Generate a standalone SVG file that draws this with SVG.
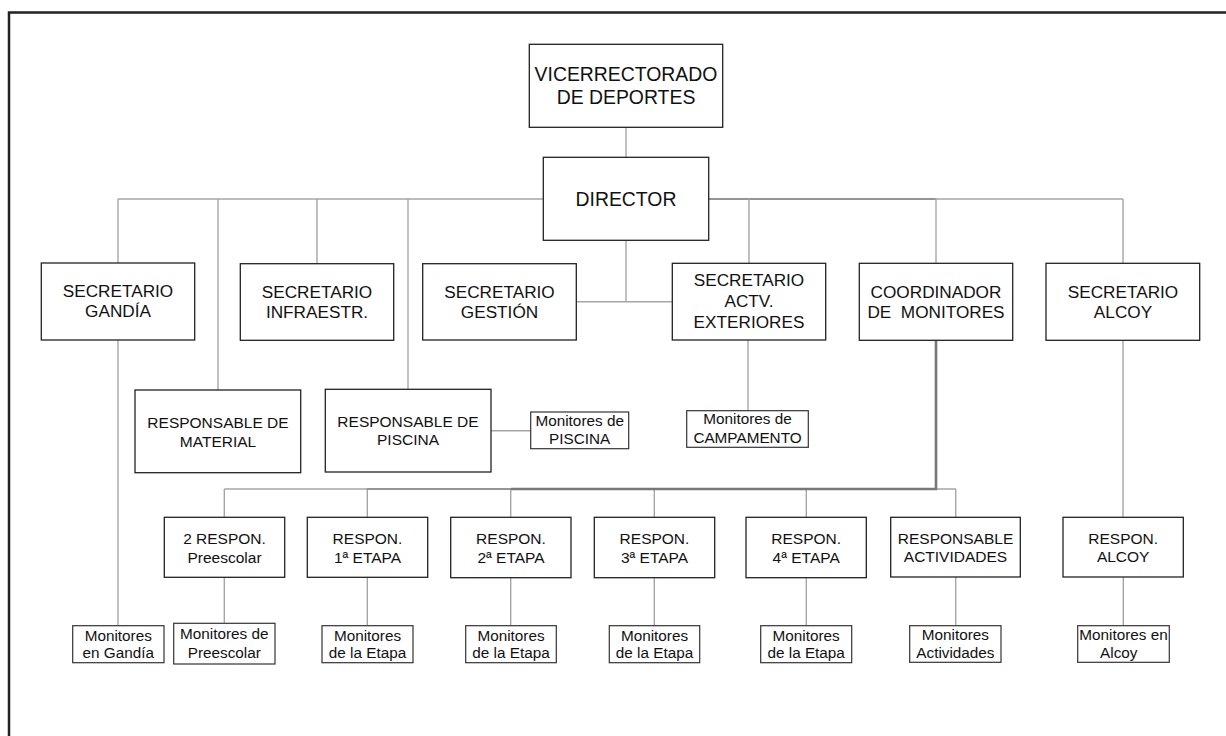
<svg xmlns="http://www.w3.org/2000/svg" width="1226" height="736" viewBox="0 0 1226 736">
<style>
.frame{fill:none;stroke:#222;stroke-width:2.5}
.c{fill:none;stroke:#a6a6a6;stroke-width:1.4}
.cm{fill:none;stroke:#888;stroke-width:1.5}
.ct{fill:none;stroke:#777;stroke-width:2.6}
.b{fill:#fff;stroke:#222;stroke-width:1.3}
.s{fill:#fff;stroke:#333;stroke-width:1.2}
text{font-family:"Liberation Sans",Arial,sans-serif;fill:#111;text-anchor:middle}
.t1{font-size:19.4px}
.t2{font-size:17.2px}
.t3{font-size:15.5px}
.t4{font-size:15.3px}
</style>
<rect width="1226" height="736" fill="#fff"/>
<path class="frame" d="M9,736 V12.5 H1226"/>
<g id="connectors">
<path class="c" d="M626,127 V157"/>
<path class="c" d="M118,199 H1123"/>
<path class="cm" d="M709,199 H936"/>
<path class="c" d="M118,199 V263 M218,199 V390 M317,199 V264 M408,199 V389 M749,199 V263 M936,199 V263 M1123,199 V263"/>
<path class="c" d="M626,240 V301.7 M576,301.7 H672"/>
<path class="c" d="M118,340 V625.7"/>
<path class="c" d="M491,430.7 H530.7"/>
<path class="c" d="M748,340 V410.7"/>
<path class="c" d="M224.3,489 H956 M224.3,489 V517 M367.3,489 V517 M510.7,489 V517 M654.3,489 V517 M806.3,489 V517 M955.7,489 V517"/>
<path class="cm" d="M367,489 H512"/>
<path class="ct" d="M936,340 V489 H511"/>
<path class="c" d="M1123,340 V517"/>
<path class="c" d="M224.3,577 V623.3 M367.3,577 V625.7 M510.7,577 V625.7 M654.3,577 V625.7 M806.3,577 V625.7 M955.7,577 V625.7 M1123.3,577 V625.7"/>
</g>
<g id="vicerrectorado"><rect class="b" x="529.3" y="44.3" width="193.4" height="83"/><text class="t1" x="626" y="80.7">VICERRECTORADO</text><text class="t1" x="626" y="104">DE DEPORTES</text></g>
<g id="director"><rect class="b" x="543.3" y="157.3" width="165.4" height="83"/><text class="t1" x="626" y="205.7">DIRECTOR</text></g>
<g id="sec-gandia"><rect class="b" x="41.3" y="263" width="153.4" height="77"/><text class="t2" x="118" y="297">SECRETARIO</text><text class="t2" x="118" y="317.3">GANDÍA</text></g>
<g id="sec-infraestr"><rect class="b" x="240.3" y="263.7" width="153.4" height="76.6"/><text class="t2" x="317" y="297.7">SECRETARIO</text><text class="t2" x="317" y="318.3">INFRAESTR.</text></g>
<g id="sec-gestion"><rect class="b" x="422.7" y="263.7" width="153.6" height="76.3"/><text class="t2" x="499.5" y="297.7">SECRETARIO</text><text class="t2" x="499.5" y="318.3">GESTIÓN</text></g>
<g id="sec-exteriores"><rect class="b" x="672.3" y="263.3" width="153.4" height="76.7"/><text class="t2" x="749" y="286">SECRETARIO</text><text class="t2" x="749" y="306.7">ACTV.</text><text class="t2" x="749" y="328.3">EXTERIORES</text></g>
<g id="coordinador"><rect class="b" x="859.3" y="263.3" width="153.4" height="77"/><text class="t2" x="936" y="297.7">COORDINADOR</text><text class="t2" x="936" y="318.3" xml:space="preserve">DE  MONITORES</text></g>
<g id="sec-alcoy"><rect class="b" x="1046" y="263.3" width="153.7" height="77"/><text class="t2" x="1123" y="297.7">SECRETARIO</text><text class="t2" x="1123" y="318.3">ALCOY</text></g>
<g id="resp-material"><rect class="b" x="135" y="390" width="165.7" height="82.7"/><text class="t3" x="218" y="427.5">RESPONSABLE DE</text><text class="t3" x="218" y="446.5">MATERIAL</text></g>
<g id="resp-piscina"><rect class="b" x="325.3" y="389.3" width="165.7" height="82.7"/><text class="t3" x="408" y="426.7">RESPONSABLE DE</text><text class="t3" x="408" y="445.3">PISCINA</text></g>
<g id="mon-piscina"><rect class="s" x="530.7" y="412" width="98" height="36.7"/><text class="t4" x="579.7" y="425.7">Monitores de</text><text class="t4" x="579.7" y="444.3">PISCINA</text></g>
<g id="mon-campamento"><rect class="s" x="686.7" y="410.7" width="121.6" height="36.6"/><text class="t4" x="747.5" y="424.3">Monitores de</text><text class="t4" x="747.5" y="443">CAMPAMENTO</text></g>
<g id="resp-preescolar"><rect class="b" x="164.3" y="517.3" width="120.4" height="60"/><text class="t3" x="224.5" y="544.3">2 RESPON.</text><text class="t3" x="224.5" y="562.7">Preescolar</text></g>
<g id="resp-1"><rect class="b" x="307.3" y="517.3" width="120.4" height="60"/><text class="t3" x="367.5" y="544.3">RESPON.</text><text class="t3" x="367.5" y="562.7">1ª ETAPA</text></g>
<g id="resp-2"><rect class="b" x="450.7" y="517.3" width="120.3" height="60.4"/><text class="t3" x="511" y="544.3">RESPON.</text><text class="t3" x="511" y="562.7">2ª ETAPA</text></g>
<g id="resp-3"><rect class="b" x="594.3" y="517.3" width="120.4" height="60.4"/><text class="t3" x="654.5" y="544.3">RESPON.</text><text class="t3" x="654.5" y="562.7">3ª ETAPA</text></g>
<g id="resp-4"><rect class="b" x="746" y="517.3" width="120.3" height="60.4"/><text class="t3" x="806.2" y="544.3">RESPON.</text><text class="t3" x="806.2" y="562.7">4ª ETAPA</text></g>
<g id="resp-actividades"><rect class="b" x="890.7" y="517.3" width="129.6" height="59.7"/><text class="t3" x="955.5" y="543.5">RESPONSABLE</text><text class="t3" x="955.5" y="562">ACTIVIDADES</text></g>
<g id="resp-alcoy"><rect class="b" x="1063" y="517.3" width="120.3" height="59.7"/><text class="t3" x="1123.2" y="543.5">RESPON.</text><text class="t3" x="1123.2" y="562">ALCOY</text></g>
<g id="mon-gandia"><rect class="s" x="72.7" y="625.7" width="91.3" height="37"/><text class="t4" x="118.3" y="641">Monitores</text><text class="t4" x="118.3" y="658.4">en Gandía</text></g>
<g id="mon-preescolar"><rect class="s" x="173.7" y="623.3" width="101.3" height="40.7"/><text class="t4" x="224.3" y="639.3">Monitores de</text><text class="t4" x="224.3" y="657.7">Preescolar</text></g>
<g id="mon-1"><rect class="s" x="322" y="625.7" width="91" height="37"/><text class="t4" x="367.5" y="641">Monitores</text><text class="t4" x="367.5" y="658.4">de la Etapa</text></g>
<g id="mon-2"><rect class="s" x="465.7" y="625.7" width="90.6" height="37"/><text class="t4" x="511" y="641">Monitores</text><text class="t4" x="511" y="658.4">de la Etapa</text></g>
<g id="mon-3"><rect class="s" x="609.3" y="625.7" width="90.4" height="37"/><text class="t4" x="654.5" y="641">Monitores</text><text class="t4" x="654.5" y="658.4">de la Etapa</text></g>
<g id="mon-4"><rect class="s" x="760.7" y="625.7" width="91" height="37"/><text class="t4" x="806.2" y="641">Monitores</text><text class="t4" x="806.2" y="658.4">de la Etapa</text></g>
<g id="mon-actividades"><rect class="s" x="909.7" y="625.7" width="91.3" height="36.6"/><text class="t4" x="955.4" y="640">Monitores</text><text class="t4" x="955.4" y="658.3">Actividades</text></g>
<g id="mon-alcoy"><rect class="s" x="1077.7" y="625.7" width="91.6" height="36.6"/><text class="t4" x="1123.5" y="640">Monitores en</text><text class="t4" x="1118.8" y="658.3">Alcoy</text></g>
</svg>
